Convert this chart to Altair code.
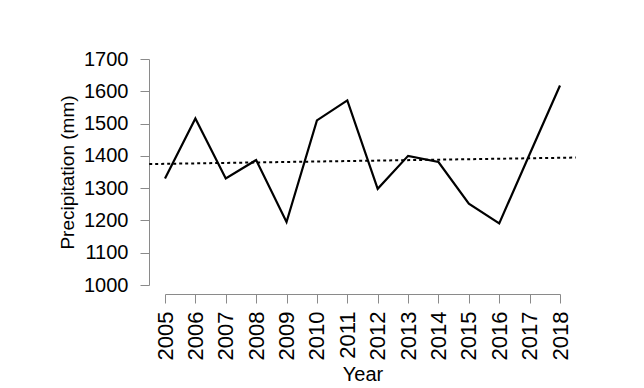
import altair as alt
import pandas as pd

years = [2005, 2006, 2007, 2008, 2009, 2010, 2011, 2012, 2013, 2014, 2015, 2016, 2017, 2018]
precip = [1330, 1516, 1330, 1387, 1195, 1510, 1572, 1298, 1400, 1381, 1252, 1191, 1405, 1618]
y_ticks = [1000, 1100, 1200, 1300, 1400, 1500, 1600, 1700]

df = pd.DataFrame({"Year": years, "Precip": precip})

FONT = "Liberation Sans"
AX = "#8a8a8a"

x_enc = alt.X(
    "Year:Q",
    scale=alt.Scale(domain=[2005, 2018], nice=False, zero=False),
    axis=alt.Axis(
        values=years, format="d", labelAngle=-90, labelFontSize=22,
        labelColor="black", labelFont=FONT, labelPadding=8,
        title="Year", titleFontSize=20, titleFont=FONT, titleFontWeight="normal",
        titleColor="black", titlePadding=5,
        tickSize=9, tickColor=AX, domainColor=AX, offset=9, grid=False,
        labelFlush=False, labelOverlap=False,
    ),
)
y_enc = alt.Y(
    "Precip:Q",
    scale=alt.Scale(domain=[1000, 1700], nice=False, zero=False),
    axis=alt.Axis(
        values=y_ticks, format="d", labelFontSize=20, labelColor="black",
        labelFont=FONT, labelPadding=12, labelOverlap=False,
        title="Precipitation (mm)", titleFontSize=19, titleFont=FONT,
        titleFontWeight="normal", titleColor="black", titlePadding=6,
        tickSize=9, tickColor=AX, domainColor=AX, offset=16, grid=False,
        labelFlush=False,
    ),
)

base = alt.Chart(df)

line = base.mark_line(color="black", strokeWidth=2.2).encode(x=x_enc, y=y_enc)

trend = base.transform_regression(
    "Year", "Precip", extent=[2004.48, 2018.52]
).mark_line(color="black", strokeWidth=2, strokeDash=[3, 3]).encode(
    x=x_enc, y=y_enc
)

chart = alt.layer(trend, line).properties(
    width=395, height=226,
    background="white",
    padding={"left": 50, "top": 41, "right": 5, "bottom": 5},
).configure_view(strokeWidth=0, stroke="transparent")

chart.save("out.html", embed_options={"renderer": "svg", "actions": False})
